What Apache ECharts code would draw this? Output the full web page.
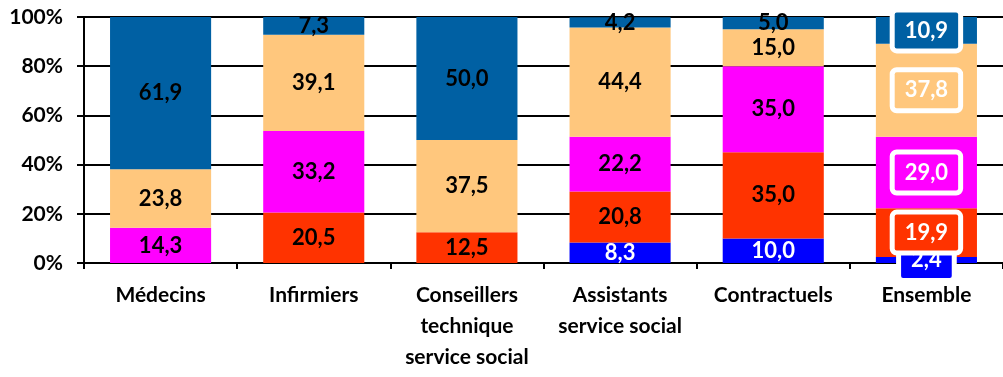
<!DOCTYPE html>
<html><head><meta charset="utf-8">
<script src="https://cdn.jsdelivr.net/npm/echarts@6/dist/echarts.min.js"></script>
<style>html,body{margin:0;padding:0;background:#fff}#c{width:1003px;height:377px}</style>
</head><body><div id="c"></div>
<script>
const categories = ['Médecins','Infirmiers','Conseillers\ntechnique\nservice social','Assistants\nservice social','Contractuels','Ensemble'];
const sBlue    = [null, null, null, 8.3, 10.0, 2.4];
const sRed     = [null, 20.5, 12.5, 20.8, 35.0, 19.9];
const sMagenta = [14.3, 33.2, null, 22.2, 35.0, 29.0];
const sOrange  = [23.8, 39.1, 37.5, 44.4, 15.0, 37.8];
const sSteel   = [61.9, 7.3, 50.0, 4.2, 5.0, 10.9];
const yTicks = [0,20,40,60,80,100];

const FONT = 'Lato';
const colors = ['#0000FF','#FF3300','#FF00FF','#FFC77D','#0060A3'];
const seriesData = [sBlue, sRed, sMagenta, sOrange, sSteel];
const labelColors = ['#fff','#000','#000','#000','#000'];

function fmt(v){ return v.toFixed(1).replace('.', ','); }

const series = seriesData.map((arr, si) => ({
  type: 'bar',
  stack: 'all',
  barWidth: '66%',
  itemStyle: { color: colors[si] },
  data: arr.map((v, i) => {
    const d = { value: v };
    if (i === 5 && v != null) {
      d.label = {
        show: true, position: 'inside',
        color: '#fff', fontFamily: FONT, fontWeight: 'bold', fontSize: 22,
        backgroundColor: colors[si], borderColor: '#fff', borderWidth: 5,
        padding: [8, 10, 6, 10], borderRadius: 2
      };
    }
    return d;
  }),
  label: {
    show: true, position: 'inside',
    color: labelColors[si], fontFamily: FONT, fontWeight: 'bold', fontSize: 22,
    formatter: p => p.value == null ? '' : fmt(p.value)
  },
  z: 3
}));

const chart = echarts.init(document.getElementById('c'), null, {renderer: 'canvas'});
chart.setOption({
  animation: false,
  grid: { left: 84, top: 17, width: 927, height: 246, containLabel: false },
  xAxis: {
    type: 'category', data: categories,
    axisLine: { lineStyle: { color: '#000', width: 2 } },
    axisTick: { show: true, length: 6, lineStyle: { color: '#000', width: 2 } },
    axisLabel: { color: '#000', fontFamily: FONT, fontWeight: 'bold', fontSize: 21, lineHeight: 31, margin: 17, interval: 0 }
  },
  yAxis: {
    type: 'value', min: 0, max: 100, interval: 20,
    axisLine: { show: true, lineStyle: { color: '#000', width: 2 } },
    axisTick: { show: true, length: 7, lineStyle: { color: '#000', width: 2 } },
    splitLine: { show: true, lineStyle: { color: '#000', width: 2 } },
    axisLabel: { color: '#000', fontFamily: FONT, fontWeight: 'bold', fontSize: 21, margin: 21,
      formatter: v => yTicks.includes(v) ? v + '%' : '' }
  },
  series: series
});
</script></body></html>
